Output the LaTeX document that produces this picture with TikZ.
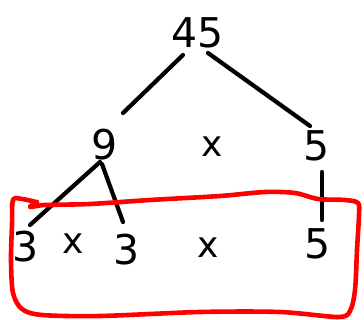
\documentclass[tikz,border=0pt]{standalone}
\usepackage{fontspec}
\setmainfont{DejaVu Sans}
\begin{document}
\begin{tikzpicture}[x=1pt,y=-1pt,
  num/.style={inner sep=0pt,font=\fontsize{41}{48}\selectfont},
  times/.style={inner sep=0pt,font=\fontsize{36}{42}\selectfont},
  branch/.style={line width=4.2pt,line cap=round,black},
  loop/.style={line width=4.6pt,red,line cap=round,line join=round}]
\useasboundingbox (0,0) rectangle (364,320);
% top
\node[num] (n45) at (198,33) {45};
% middle row
\node[num] (n9) at (105,145) {9};
\node[times] (m1) at (212,147) {x};
\node[num] (n5a) at (317,146) {5};
% bottom row
\node[num] (n3a) at (26,247) {3};
\node[times] (m2) at (73,244) {x};
\node[num] (n3b) at (127,250) {3};
\node[times] (m3) at (208,248) {x};
\node[num] (n5b) at (318,244) {5};
% connector ends
\coordinate (a1s) at (183,55);  \coordinate (a1e) at (123,113);
\coordinate (a2s) at (208,53);  \coordinate (a2e) at (310,126);
\coordinate (b1s) at (100,162); \coordinate (b1e) at (30,225);
\coordinate (b2s) at (102,164); \coordinate (b2e) at (123,222);
\coordinate (cs) at (322,172);  \coordinate (ce) at (322,220);
\draw[branch] (a1s) -- (a1e);
\draw[branch] (a2s) -- (a2e);
\draw[branch] (b1s) -- (b1e);
\draw[branch] (b2s) -- (b2e);
\draw[branch] (cs) -- (ce);
% red hand-drawn loop
\draw[loop] plot[smooth,tension=0.5] coordinates {
  (36,202) (22,199) (13,200) (12,225) (11,260) (13,293) (22,309) (42,315)
  (100,316) (200,312) (280,312) (338,317) (350,311) (355,290) (357,250)
  (359,215) (358,203) (345,200) (318,199) (295,193) (265,192) (220,196)
  (150,200) (90,204) (45,205) (30,207) (37,202)};
\end{tikzpicture}
\end{document}
